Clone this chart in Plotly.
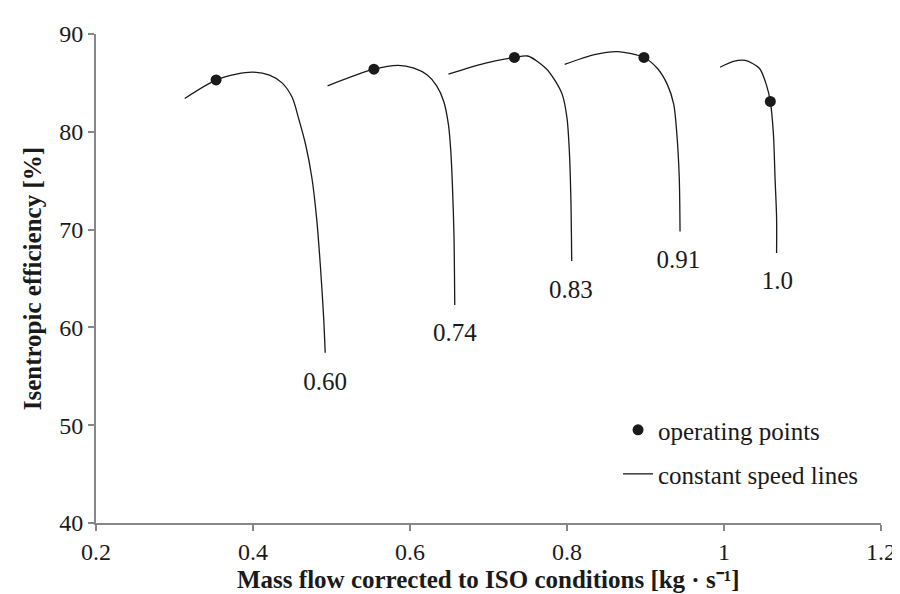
import plotly.graph_objects as go

# Constant speed lines
speed_labels = ["0.60", "0.74", "0.83", "0.91", "1.0"]
x_060 = [0.313, 0.353, 0.379, 0.400, 0.421, 0.437, 0.450, 0.458, 0.467, 0.475, 0.481, 0.486, 0.490, 0.492]
y_060 = [83.4, 85.3, 85.9, 86.1, 85.8, 85.0, 83.5, 81.4, 78.7, 75.3, 71.2, 66.1, 61.0, 57.4]
x_074 = [0.495, 0.554, 0.585, 0.605, 0.622, 0.634, 0.643, 0.649, 0.652, 0.654, 0.656, 0.657]
y_074 = [84.7, 86.4, 86.8, 86.5, 85.8, 84.7, 83.1, 80.7, 78.0, 74.6, 69.5, 62.3]
x_083 = [0.649, 0.695, 0.733, 0.750, 0.773, 0.785, 0.794, 0.800, 0.803, 0.805, 0.806]
y_083 = [85.9, 87.0, 87.6, 87.75, 86.5, 85.2, 83.8, 81.4, 78.0, 72.9, 66.8]
x_091 = [0.797, 0.835, 0.865, 0.898, 0.915, 0.928, 0.936, 0.940, 0.943, 0.944]
y_091 = [86.9, 87.9, 88.2, 87.6, 86.5, 84.8, 82.8, 79.7, 75.3, 69.8]
x_100 = [0.995, 1.012, 1.027, 1.045, 1.054, 1.059, 1.063, 1.065, 1.067, 1.067]
y_100 = [86.6, 87.2, 87.3, 86.5, 84.8, 83.1, 79.7, 75.3, 71.2, 67.6]

# Operating points
op_x = [0.353, 0.554, 0.733, 0.898, 1.059]
op_y = [85.3, 86.4, 87.6, 87.6, 83.1]

# Speed label positions
lab_x = [0.492, 0.657, 0.805, 0.942, 1.068]
lab_y = [54.2, 59.2, 63.6, 66.7, 64.6]

x_ticks = [0.2, 0.4, 0.6, 0.8, 1.0, 1.2]
x_ticktext = ["0.2", "0.4", "0.6", "0.8", "1", "1.2"]
y_ticks = [40, 50, 60, 70, 80, 90]

x_title = "<b>Mass flow corrected to ISO conditions [kg · s⁻¹]</b>"
y_title = "<b>Isentropic efficiency [%]</b>"

FONT = "Liberation Serif"
INK = "#1a1a1a"
fig = go.Figure()

curves = [(x_060, y_060), (x_074, y_074), (x_083, y_083), (x_091, y_091), (x_100, y_100)]
for i, (cx, cy) in enumerate(curves):
    fig.add_trace(go.Scatter(
        x=cx, y=cy, mode="lines",
        line=dict(color=INK, width=1.3, shape="spline", smoothing=0.8),
        name="constant speed lines", showlegend=(i == 0), legend="legend2",
        hoverinfo="skip"))

fig.add_trace(go.Scatter(
    x=op_x, y=op_y, mode="markers",
    marker=dict(color=INK, size=11),
    name="operating points", legend="legend"))

fig.add_trace(go.Scatter(
    x=lab_x, y=lab_y, mode="text", text=speed_labels,
    textfont=dict(family=FONT, size=25, color=INK),
    showlegend=False, hoverinfo="skip"))

axis_common = dict(showgrid=False, zeroline=False, showline=True,
                   linecolor="#878787", linewidth=2, ticks="outside",
                   tickcolor="#878787", ticklen=6, tickwidth=1.5,
                   tickfont=dict(family=FONT, size=24, color=INK))

fig.update_xaxes(range=[0.2, 1.2], tickvals=x_ticks, ticktext=x_ticktext, **axis_common)
fig.update_yaxes(range=[40, 90], tickvals=y_ticks, **axis_common)

fig.add_annotation(text=x_title, xref="paper", yref="paper", x=0.5, y=-0.086,
                   xanchor="center", yanchor="top", showarrow=False, borderpad=0,
                   font=dict(family=FONT, size=25, color=INK))
fig.add_annotation(text=y_title, xref="paper", yref="paper", x=-0.0805, y=0.5,
                   xanchor="center", yanchor="middle", showarrow=False, textangle=-90,
                   font=dict(family=FONT, size=25, color=INK))

legend_font = dict(family=FONT, size=25, color=INK)
fig.update_layout(
    width=900, height=594,
    margin=dict(l=88, r=17, t=26, b=79),
    plot_bgcolor="white", paper_bgcolor="white",
    legend=dict(x=0.665, y=0.19, xanchor="left", yanchor="middle",
                font=legend_font, bgcolor="rgba(0,0,0,0)"),
    legend2=dict(x=0.665, y=0.10, xanchor="left", yanchor="middle",
                 font=legend_font, bgcolor="rgba(0,0,0,0)"),
)

fig.write_html("out.html")
